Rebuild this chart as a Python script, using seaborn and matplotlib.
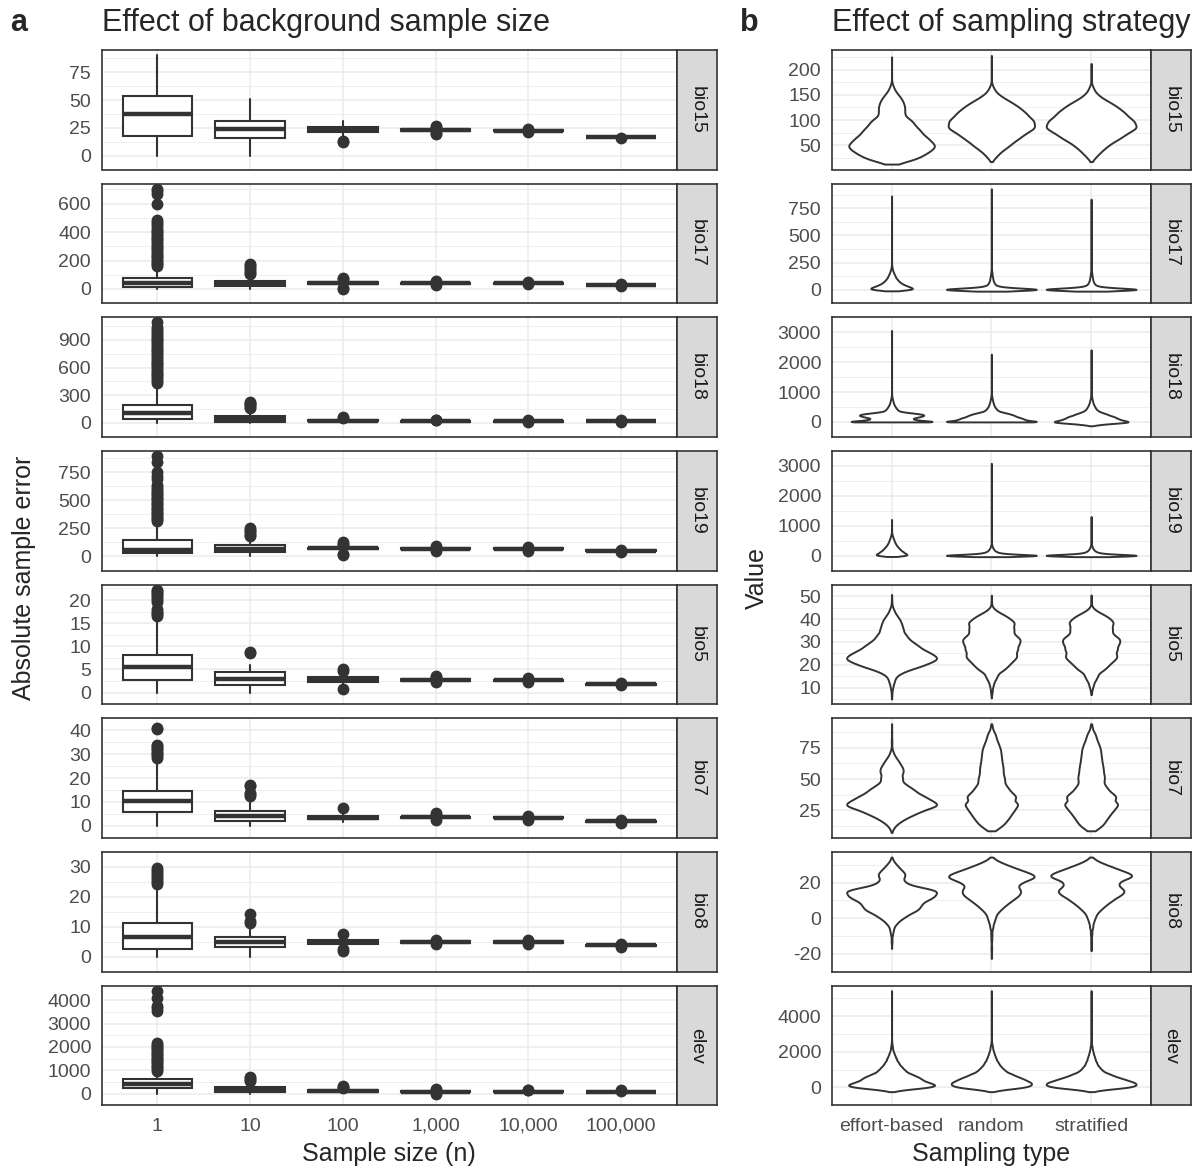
import numpy as np
import pandas as pd
import matplotlib
matplotlib.use("Agg")
import matplotlib.pyplot as plt
import seaborn as sns

sns.set_style("white")
plt.rcParams['font.family'] = ['Liberation Sans', 'DejaVu Sans']

# ---------------- DATA ----------------
variables = ["bio15", "bio17", "bio18", "bio19", "bio5", "bio7", "bio8", "elev"]
sizes = ["1", "10", "100", "1,000", "10,000", "100,000"]
sampling = ["effort-based", "random", "stratified"]

# panel a: box stats per sample size -> (lower whisker, q1, median, q3, upper whisker)
bio15_box = [(0, 17.5, 37.5, 53.5, 90.5), (0, 15.5, 23.5, 30.8, 50.5), (18, 21, 23.2, 25.5, 31),
             (21, 22.3, 23, 23.8, 25), (21, 21.8, 22.4, 23, 23.5), (16, 16.3, 16.6, 17, 17.3)]
bio15_out = [[], [], [12.5, 13.5], [19, 20, 26, 27], [20.8, 24], [16]]

bio17_box = [(0, 15, 43, 80, 150), (0, 20, 38, 58, 95), (20, 35, 42, 48, 60),
             (33, 38, 41, 44, 50), (33, 37, 40, 43, 47), (22, 25, 27, 29, 32)]
bio17_out = [[160, 172, 185, 198, 210, 222, 235, 248, 260, 272, 285, 298, 310, 322, 335, 348, 360,
              372, 385, 398, 410, 425, 440, 455, 470, 485, 600, 670, 690, 705],
             [102, 115, 125, 140, 155, 165, 175], [68, 75, 3, 10], [30, 52, 55], [32, 48], [21, 33]]

bio18_box = [(0, 40, 110, 200, 420), (0, 15, 45, 75, 150), (5, 18, 24, 30, 45),
             (8, 15, 18, 22, 28), (10, 15, 18, 21, 26), (17, 20, 23, 26, 30)]
bio18_out = [[435, 455, 475, 495, 515, 535, 555, 575, 595, 615, 635, 655, 675, 695, 715, 735, 755,
              775, 795, 815, 835, 855, 875, 895, 915, 935, 955, 975, 995, 1015, 1045, 1090],
             [160, 175, 190, 205, 220, 232], [55, 65], [32, 36], [8, 29], [15, 32]]

bio19_box = [(0, 28, 60, 150, 300), (0, 41, 69, 101, 160), (40, 65, 72, 80, 95),
             (55, 65, 70, 75, 85), (55, 63, 68, 73, 80), (40, 46, 50, 54, 58)]
bio19_out = [[315, 330, 345, 360, 375, 390, 405, 420, 435, 450, 465, 480, 495, 510, 525, 540, 555,
              570, 585, 600, 620, 640, 690, 720, 750, 840, 895],
             [180, 195, 210, 225, 240, 250], [105, 115, 125, 15, 25], [50, 90], [52, 84], [38, 60]]

bio5_box = [(0, 2.8, 5.5, 8.2, 16.1), (0, 1.55, 2.9, 4.4, 6.0), (1.6, 2.3, 2.8, 3.3, 4.0),
            (2.3, 2.55, 2.75, 2.95, 3.2), (2.3, 2.5, 2.65, 2.8, 3.0), (1.6, 1.75, 1.85, 1.95, 2.1)]
bio5_out = [[16.5, 16.9, 17.3, 17.7, 18.1, 19.6, 20.0, 20.4, 20.8, 21.2, 21.6, 22.0, 22.2],
            [8.5, 8.8], [4.6, 5.0, 0.8], [2.2, 3.3, 3.5], [2.2, 3.1], [1.55, 2.15]]

bio7_box = [(0, 5.7, 10.3, 14.8, 27.7), (0, 2.1, 4.0, 6.3, 11.5), (1.5, 3.0, 3.5, 4.3, 6.0),
            (2.8, 3.3, 3.6, 3.9, 4.4), (2.7, 3.1, 3.35, 3.6, 4.0), (1.5, 1.75, 1.9, 2.05, 2.3)]
bio7_out = [[28.5, 29.2, 29.9, 30.6, 31.3, 32.0, 32.7, 33.4, 34.0, 40.4, 41.0],
            [12.5, 13.2, 13.8, 16.5, 17.0], [7.5], [2.5, 4.7, 5.2], [2.5, 4.2], [1.4, 2.4]]

bio8_box = [(0, 2.7, 6.6, 11.3, 23.3), (0, 3.1, 4.9, 6.6, 10.0), (3.0, 4.3, 4.9, 5.5, 6.5),
            (4.3, 4.6, 4.85, 5.1, 5.4), (4.2, 4.55, 4.8, 5.05, 5.4), (3.4, 3.65, 3.8, 3.95, 4.2)]
bio8_out = [[24.2, 24.9, 25.6, 26.3, 27.0, 27.7, 28.4, 29.0, 29.5],
            [11.4, 12.0, 14.3], [7.4, 2.0, 2.5], [4.2, 5.5], [4.1, 5.5], [3.3, 4.3]]

elev_box = [(0, 230, 404, 605, 900), (0, 80, 170, 270, 500), (20, 70, 100, 130, 200),
            (20, 60, 80, 100, 150), (30, 60, 78, 95, 130), (20, 45, 60, 75, 100)]
elev_out = [[980, 1050, 1120, 1190, 1260, 1330, 1400, 1470, 1540, 1610, 1680, 1750, 1820, 1890,
             1960, 2030, 2100, 2170, 3550, 3650, 3750, 4100, 4400],
            [540, 600, 660, 720], [250, 300, 330], [0, 170, 190], [140, 160], [110, 130]]

a_ticks = [[0, 25, 50, 75], [0, 200, 400, 600], [0, 300, 600, 900], [0, 250, 500, 750],
           [0, 5, 10, 15, 20], [0, 10, 20, 30, 40], [0, 10, 20, 30], [0, 1000, 2000, 3000, 4000]]

# panel b: violin profiles -> value levels and half widths (px)
bio15_eff_y = [12, 15, 20, 26, 33, 40, 47, 54, 61, 68, 76, 84, 92, 99, 104, 112, 120, 128, 136, 144, 152, 160, 168, 185, 205, 226]
bio15_eff_w = [0, 12, 22, 29, 35, 39, 45, 41, 37, 33, 30, 26, 23, 20, 14, 13, 13, 13, 11.5, 9.5, 6, 3, 1, 0, 0, 0]
bio15_rand_y = [17, 23, 29, 35, 42, 49, 56, 62, 68, 75, 82, 88, 95, 101, 108, 115, 122, 129, 136, 143, 150, 158, 166, 180, 200, 229]
bio15_rand_w = [0, 3, 5, 8, 12, 17, 20, 23, 28, 33, 38, 40, 39, 37, 34, 31, 27, 23, 18, 12, 7, 3.5, 1.2, 0, 0, 0]
bio15_strat_y = [17, 23, 29, 35, 42, 49, 56, 62, 68, 75, 82, 88, 95, 101, 108, 115, 122, 129, 136, 143, 150, 158, 166, 185, 213]
bio15_strat_w = [0, 3, 5, 8, 11, 15, 19, 23, 28, 33, 38, 40, 38, 35, 32, 29, 25, 21, 16, 10, 6, 3, 1, 0, 0]

bio17_eff_y = [-11, -5, 0, 6, 12, 18, 25, 33, 42, 52, 62, 72, 83, 95, 107, 120, 133, 147, 162, 178, 195, 215, 235, 865]
bio17_eff_w = [0, 6, 10.5, 10, 9.5, 9, 8, 7, 6, 5, 4, 3.5, 3, 2.5, 2, 1.7, 1.4, 1.1, 0.8, 0.5, 0.3, 0.15, 0, 0]
bio17_rand_y = [-14, -7, 0, 5, 10, 15, 20, 27, 35, 45, 55, 65, 75, 87, 100, 112, 125, 140, 155, 170, 185, 200, 931]
bio17_rand_w = [0, 22, 44, 33, 22, 14, 9, 5.5, 3.5, 2.5, 2, 1.6, 1.3, 1.1, 0.9, 0.8, 0.6, 0.5, 0.35, 0.2, 0.1, 0, 0]
bio17_strat_y = [-14, -7, 0, 5, 10, 15, 20, 27, 35, 45, 55, 65, 75, 87, 100, 112, 125, 140, 155, 170, 185, 200, 836]
bio17_strat_w = [0, 22, 44, 33, 22, 14, 9, 5.5, 3.5, 2.5, 2, 1.6, 1.3, 1.1, 0.9, 0.8, 0.6, 0.5, 0.35, 0.2, 0.1, 0, 0]

bio18_eff_y = [0, 25, 50, 75, 100, 130, 160, 190, 220, 250, 280, 310, 340, 375, 410, 445, 480, 515, 550, 590, 630, 670, 710, 750, 800, 850, 900, 950, 3060]
bio18_eff_w = [75, 42, 34, 26, 23, 25, 30, 35, 38, 37, 30, 20, 11, 8, 6.8, 5.7, 4.8, 4, 3.3, 2.7, 2.2, 1.8, 1.4, 1.1, 0.7, 0.4, 0.2, 0, 0]
bio18_rand_y = [0, 25, 50, 75, 100, 125, 150, 180, 210, 240, 270, 300, 330, 365, 400, 440, 480, 525, 570, 615, 660, 710, 760, 810, 860, 920, 980, 2267]
bio18_rand_w = [75, 40, 37, 35, 33, 31, 29, 26, 24, 22, 19, 15, 11, 7.5, 6, 5, 4, 3.2, 2.6, 2.1, 1.7, 1.3, 1, 0.7, 0.45, 0.2, 0, 0]
bio18_strat_y = [-129, -90, -50, -20, 0, 25, 50, 80, 110, 140, 170, 200, 235, 270, 305, 340, 380, 420, 465, 510, 555, 600, 650, 700, 750, 800, 850, 910, 970, 2413]
bio18_strat_w = [0, 10, 25, 38, 45, 40, 36, 33, 30, 28, 26, 23, 20, 17, 13, 10, 7.5, 6, 5, 4, 3.2, 2.6, 2, 1.6, 1.2, 0.85, 0.5, 0.2, 0, 0]

bio19_eff_y = [-30, -10, 0, 25, 50, 80, 114, 145, 180, 215, 250, 285, 320, 355, 390, 425, 460, 500, 540, 580, 620, 660, 700, 740, 780, 820, 1209]
bio19_eff_w = [0, 8, 11, 10.5, 10, 9, 8, 7, 6.2, 5.5, 4.8, 4.2, 3.6, 3.1, 2.7, 2.3, 2, 1.7, 1.4, 1.1, 0.85, 0.6, 0.4, 0.2, 0.1, 0, 0]
bio19_rand_y = [-36, -20, -8, 0, 10, 20, 35, 50, 65, 80, 100, 120, 140, 165, 190, 220, 250, 285, 320, 360, 400, 440, 3090]
bio19_rand_w = [0, 20, 38, 45, 38, 28, 18, 12, 8, 6, 4.5, 3.5, 2.8, 2.2, 1.7, 1.3, 1, 0.7, 0.45, 0.25, 0.1, 0, 0]
bio19_strat_y = [-36, -20, -8, 0, 10, 20, 35, 50, 65, 80, 100, 120, 140, 165, 190, 220, 250, 285, 320, 360, 400, 440, 1306]
bio19_strat_w = [0, 20, 38, 45, 38, 28, 18, 12, 8, 6, 4.5, 3.5, 2.8, 2.2, 1.7, 1.3, 1, 0.7, 0.45, 0.25, 0.1, 0, 0]

bio5_eff_y = [5.1, 7.5, 10, 12, 13.5, 15, 16.3, 17.6, 19, 20.3, 21.6, 22.8, 24, 25.2, 26.5, 28, 29.4, 30.8, 32.2, 33.6, 35.5, 37.5, 39.5, 41.5, 43.5, 45, 47.5, 50.7]
bio5_eff_w = [0.1, 0.3, 1, 2, 3, 4, 8, 15, 25, 32, 39, 44, 40, 35, 30, 26, 21, 17, 14, 12, 11, 9.5, 8, 5, 2.5, 0.8, 0.2, 0.1]
bio5_rand_y = [5.6, 8.5, 11.2, 13.5, 15.4, 17.5, 19, 20.3, 21.7, 23.1, 24.2, 25.2, 26.3, 27.3, 29, 30.8, 32.5, 34.3, 36, 37.8, 39.2, 40.6, 42, 43.4, 44.8, 47.5, 50.4]
bio5_rand_w = [0.1, 0.8, 1.8, 3.8, 6, 11, 15, 18, 22, 26, 25, 23, 24.5, 26, 28.5, 29.5, 25, 21.5, 22.5, 23.5, 21, 17.5, 12, 5.5, 1, 0.2, 0.1]
bio5_strat_y = [7.0, 9, 11.2, 13.5, 15.4, 17.5, 19, 20.3, 21.7, 23.1, 24.2, 25.2, 26.3, 27.3, 29, 30.8, 32.5, 34.3, 36, 37.8, 39.2, 40.6, 42, 43.4, 44.8, 47.5, 50.5]
bio5_strat_w = [0.2, 0.8, 2.2, 4.3, 6.3, 11, 14.5, 17.5, 22, 26, 24, 22, 23.5, 25, 27.5, 28.5, 23.5, 19.5, 20.5, 21.5, 20, 17.5, 12, 5.5, 1, 0.2, 0.1]

bio7_eff_y = [7.4, 9.5, 11.3, 13, 14.5, 16.2, 17.9, 19.8, 21.8, 23.8, 25.8, 27.8, 29.7, 32.3, 35, 37.6, 40.2, 42.2, 44.2, 46.8, 50.7, 54.7, 57.4, 60, 63.3, 66.6, 69.9, 73.1, 80, 87, 94.2]
bio7_eff_w = [0, 1, 1.8, 3.5, 5.3, 8, 11, 15, 20, 25, 29, 36, 44, 37, 31, 26, 21, 18, 14.3, 10.1, 9.8, 9.6, 9.5, 9.3, 7, 4.3, 2, 0.5, 0.2, 0.1, 0.1]
bio7_rand_y = [8.7, 10.5, 12.6, 15.2, 17.9, 20.5, 23.2, 25.8, 28.4, 31.1, 35, 38.3, 41.6, 44.8, 48.1, 50.7, 53.4, 56.5, 59.5, 62.6, 66, 69.5, 73.1, 76.6, 80, 83.6, 87, 91.5, 94.2]
bio7_rand_w = [3, 6, 10, 13, 14.8, 17, 19.3, 21, 22.6, 23.1, 22.6, 19.5, 16, 13.5, 11.8, 11.3, 11, 10.7, 10.3, 9.8, 9.3, 8.8, 8.5, 7, 5.5, 4.3, 2.7, 1, 0.2]
bio7_strat_y = [8.7, 10.5, 12.6, 15.2, 17.9, 20.5, 23.2, 25.8, 28.4, 31.1, 35, 38.3, 41.6, 44.8, 48.1, 50.7, 53.4, 56.5, 59.5, 62.6, 66, 69.5, 73.1, 76.6, 80, 83.6, 87, 91.5, 94.2]
bio7_strat_w = [3, 6, 9.5, 12, 13, 15.5, 17.5, 19.8, 21.5, 22.3, 21.8, 18.5, 14.5, 12.2, 10.5, 11, 11.2, 10.5, 10, 9.5, 9, 8.5, 8.2, 7, 5.5, 4.3, 2.7, 1, 0.2]

bio8_eff_y = [-17, -13, -8.8, -6.2, -3.6, -1.9, -0.2, 1.5, 3.2, 4.5, 5.8, 7.5, 9.3, 11, 12.7, 14.5, 15.8, 17.1, 18.8, 20.1, 21.4, 23.1, 24.4, 25.7, 27.4, 29.1, 30.3, 31.5, 33, 34.3]
bio8_eff_w = [0.1, 0.3, 0.8, 1.8, 3.5, 6, 10, 14.5, 19.3, 22.5, 26, 28, 29.3, 36, 41, 44.3, 38, 29.3, 15.6, 11.5, 10.1, 12.1, 12, 11.8, 9, 6, 3.8, 2.3, 1, 0.2]
bio8_rand_y = [-22.6, -17, -12, -8.8, -5, -1.9, 0.7, 3.2, 5.4, 7.6, 9.8, 11.9, 13.7, 15.4, 17.1, 18.8, 20.1, 21.4, 22.6, 23.9, 25.6, 27.4, 29.1, 30.9, 32.8, 34.3]
bio8_rand_w = [0.1, 0.2, 0.3, 0.5, 1.3, 2.6, 4, 6, 10, 14.3, 19.5, 24.3, 27, 28, 26, 24.3, 28, 34.3, 40, 43.3, 36, 26, 18, 11, 4, 0.3]
bio8_strat_y = [-18.3, -14, -8.8, -5, -1.9, 0.7, 3.2, 5.4, 7.6, 9.8, 11.9, 13.7, 15.4, 17.1, 18.8, 20.1, 21.4, 22.6, 23.9, 25.6, 27.4, 29.1, 30.9, 32.8, 34.3]
bio8_strat_w = [0.1, 0.3, 0.5, 1.3, 2.3, 4, 6, 10, 14.3, 19.5, 24.3, 29, 31.8, 28, 24.3, 24.5, 27.3, 35, 41.8, 35, 25.3, 18, 10.3, 4, 0.3]

elev_eff_y = [-240, -150, -60, 20, 104, 180, 250, 320, 400, 480, 560, 640, 720, 800, 900, 1000, 1100, 1200, 1320, 1450, 1600, 1750, 1900, 2050, 2200, 2300, 2400, 2500, 2600, 2700, 5420]
elev_eff_w = [0, 10, 25, 40, 45, 41, 37, 34, 31, 29, 27, 24, 20, 17, 14.5, 12.5, 10.5, 9, 7.5, 6, 4.8, 3.5, 2.5, 1.5, 1, 0.7, 0.45, 0.25, 0.1, 0, 0]
elev_rand_y = [-240, -150, -60, 20, 104, 180, 250, 320, 400, 480, 560, 640, 720, 800, 900, 1000, 1100, 1200, 1320, 1450, 1600, 1750, 1900, 2050, 2200, 2300, 2400, 2500, 2600, 2700, 5420]
elev_rand_w = [0, 9, 22, 34, 38, 37.5, 37, 36, 33, 30, 27, 23, 20, 17, 14, 12, 10, 8.5, 7.2, 5.8, 4.6, 3.5, 2.6, 1.8, 1.3, 0.9, 0.6, 0.35, 0.15, 0, 0]
elev_strat_y = [-240, -150, -60, 20, 104, 180, 250, 320, 400, 480, 560, 640, 720, 800, 900, 1000, 1100, 1200, 1320, 1450, 1600, 1750, 1900, 2050, 2200, 2300, 2400, 2500, 2600, 2700, 5420]
elev_strat_w = [0, 9, 23, 36, 40, 39, 38, 36, 32, 28, 24, 20, 17, 14, 11, 9, 7.5, 6.2, 5.2, 4.3, 3.5, 2.7, 2, 1.4, 1, 0.7, 0.45, 0.25, 0.1, 0, 0]

b_ticks = [[50, 100, 150, 200], [0, 250, 500, 750], [0, 1000, 2000, 3000], [0, 1000, 2000, 3000],
           [10, 20, 30, 40, 50], [25, 50, 75], [-20, 0, 20], [0, 2000, 4000]]

# kernel bandwidth (data units) for each row of violins
b_bw = [6, 9, 25, 25, 1.15, 2.2, 1.4, 70]

box_rows = [(bio15_box, bio15_out), (bio17_box, bio17_out), (bio18_box, bio18_out), (bio19_box, bio19_out),
            (bio5_box, bio5_out), (bio7_box, bio7_out), (bio8_box, bio8_out), (elev_box, elev_out)]
violin_rows = [
    [(bio15_eff_y, bio15_eff_w), (bio15_rand_y, bio15_rand_w), (bio15_strat_y, bio15_strat_w)],
    [(bio17_eff_y, bio17_eff_w), (bio17_rand_y, bio17_rand_w), (bio17_strat_y, bio17_strat_w)],
    [(bio18_eff_y, bio18_eff_w), (bio18_rand_y, bio18_rand_w), (bio18_strat_y, bio18_strat_w)],
    [(bio19_eff_y, bio19_eff_w), (bio19_rand_y, bio19_rand_w), (bio19_strat_y, bio19_strat_w)],
    [(bio5_eff_y, bio5_eff_w), (bio5_rand_y, bio5_rand_w), (bio5_strat_y, bio5_strat_w)],
    [(bio7_eff_y, bio7_eff_w), (bio7_rand_y, bio7_rand_w), (bio7_strat_y, bio7_strat_w)],
    [(bio8_eff_y, bio8_eff_w), (bio8_rand_y, bio8_rand_w), (bio8_strat_y, bio8_strat_w)],
    [(elev_eff_y, elev_eff_w), (elev_rand_y, elev_rand_w), (elev_strat_y, elev_strat_w)],
]

# ---------------- LAYOUT ----------------
W, H = 1203, 1171
fig = plt.figure(figsize=(W / 100, H / 100), dpi=100)

row_top0, row_pitch, row_h = 50, 133.67, 119.5
a_x0, a_x1 = 101.7, 676.7
b_x0, b_x1 = 831.7, 1151
strip_w = 40

DARK = '#333333'
GRID = '#EBEBEB'


def px_axes(x0, x1, top, h):
    return fig.add_axes([x0 / W, 1 - (top + h) / H, (x1 - x0) / W, h / H])


def expand(levels, widths, total=6000):
    # turn the outline profile into repeated values so the kde follows it
    y = np.asarray(levels, float)
    w = np.asarray(widths, float)
    mass = w * np.gradient(y)
    n = np.maximum(1, np.round(mass / mass.sum() * total)).astype(int)
    return np.repeat(y, n)


def fixed_bw(h):
    return lambda kde: h / kde.dataset.std()


def style(ax, ticks, lo, hi, ncat, bottom, labels):
    r = hi - lo
    ax.set_xlim(-0.6, ncat - 0.4)
    ax.set_ylim(lo - 0.05 * r, hi + 0.05 * r)
    ax.set_xticks(range(ncat))
    ax.set_yticks(ticks)
    ax.set_yticklabels([f"{t:g}" for t in ticks])
    step = ticks[1] - ticks[0]
    minors = np.arange(ticks[0] - step / 2, ticks[-1] + step, step)
    ax.set_yticks(minors, minor=True)
    ax.grid(True, which='major', color=GRID, lw=1.1)
    ax.grid(True, which='minor', axis='y', color=GRID, lw=0.55)
    ax.set_axisbelow(True)
    ax.set_xlabel('')
    ax.set_ylabel('')
    for s in ax.spines.values():
        s.set_color(DARK)
        s.set_linewidth(1.2)
    ax.tick_params(which='major', direction='out', length=3.2, width=0.9, color=DARK,
                   labelsize=14, labelcolor='#4D4D4D')
    ax.tick_params(axis='y', pad=4.5)
    ax.tick_params(axis='x', pad=6)
    ax.tick_params(which='minor', length=0)
    if bottom:
        ax.set_xticklabels(labels)
    else:
        ax.tick_params(axis='x', length=0, labelbottom=False)


def strip(x0, top, name):
    s = px_axes(x0, x0 + strip_w, top, row_h)
    s.set_facecolor('#D9D9D9')
    s.set_xticks([])
    s.set_yticks([])
    for sp in s.spines.values():
        sp.set_color(DARK)
        sp.set_linewidth(1.2)
    s.text(0.5, 0.5, name, rotation=270, ha='center', va='center', fontsize=14,
           color='#1A1A1A', transform=s.transAxes)


for i, name in enumerate(variables):
    top = row_top0 + i * row_pitch
    last = i == len(variables) - 1

    # ----- panel a: boxplots -----
    ax = px_axes(a_x0, a_x1, top, row_h)
    box, out = box_rows[i]
    stats = [dict(whislo=b[0], q1=b[1], med=b[2], q3=b[3], whishi=b[4], fliers=o)
             for b, o in zip(box, out)]
    ax.bxp(stats, positions=range(len(sizes)), widths=0.75, patch_artist=True, showcaps=False,
           boxprops=dict(facecolor='white', edgecolor=DARK, linewidth=1.5),
           medianprops=dict(color=DARK, linewidth=3.2, solid_capstyle='butt'),
           whiskerprops=dict(color=DARK, linewidth=1.5),
           flierprops=dict(marker='o', markerfacecolor=DARK, markeredgecolor=DARK,
                           markersize=7.5, linestyle='none'),
           zorder=3)
    vals = [v for b, o in zip(box, out) for v in list(b) + list(o)]
    style(ax, a_ticks[i], min(vals), max(vals), len(sizes), last, sizes)
    strip(a_x1, top, name)

    # ----- panel b: violins -----
    bx = px_axes(b_x0, b_x1, top, row_h)
    parts = []
    for lab, (ys, ws) in zip(sampling, violin_rows[i]):
        parts.append(pd.DataFrame({'type': lab, 'value': expand(ys, ws)}))
    df = pd.concat(parts, ignore_index=True)
    sns.violinplot(data=df, x='type', y='value', order=sampling, ax=bx, cut=0, inner=None,
                   width=0.9, density_norm='area', bw_method=fixed_bw(b_bw[i]), gridsize=800,
                   color='white', saturation=1, linecolor=DARK, linewidth=1.4)
    lo = min(min(ys) for ys, _ in violin_rows[i])
    hi = max(max(ys) for ys, _ in violin_rows[i])
    style(bx, b_ticks[i], lo, hi, len(sampling), last, sampling)
    strip(b_x1, top, name)

# ---------------- TEXT ----------------
fig.text(10 / W, 1 - 31 / H, 'a', fontsize=22, fontweight='bold', va='baseline')
fig.text(a_x0 / W, 1 - 31 / H, 'Effect of background sample size', fontsize=22, va='baseline')
fig.text(740 / W, 1 - 31 / H, 'b', fontsize=22, fontweight='bold', va='baseline')
fig.text(b_x0 / W, 1 - 31 / H, 'Effect of sampling strategy', fontsize=22, va='baseline')

mid_y = 1 - (row_top0 + (7 * row_pitch + row_h) / 2) / H
fig.text(24 / W, mid_y, 'Absolute sample error', rotation=90, ha='center', va='center', fontsize=18)
fig.text(757 / W, mid_y, 'Value', rotation=90, ha='center', va='center', fontsize=18)
fig.text((a_x0 + a_x1) / 2 / W, 1 - 1154 / H, 'Sample size (n)', ha='center', va='center', fontsize=18)
fig.text((b_x0 + b_x1) / 2 / W, 1 - 1154 / H, 'Sampling type', ha='center', va='center', fontsize=18)

fig.savefig('out.png', dpi=100)
